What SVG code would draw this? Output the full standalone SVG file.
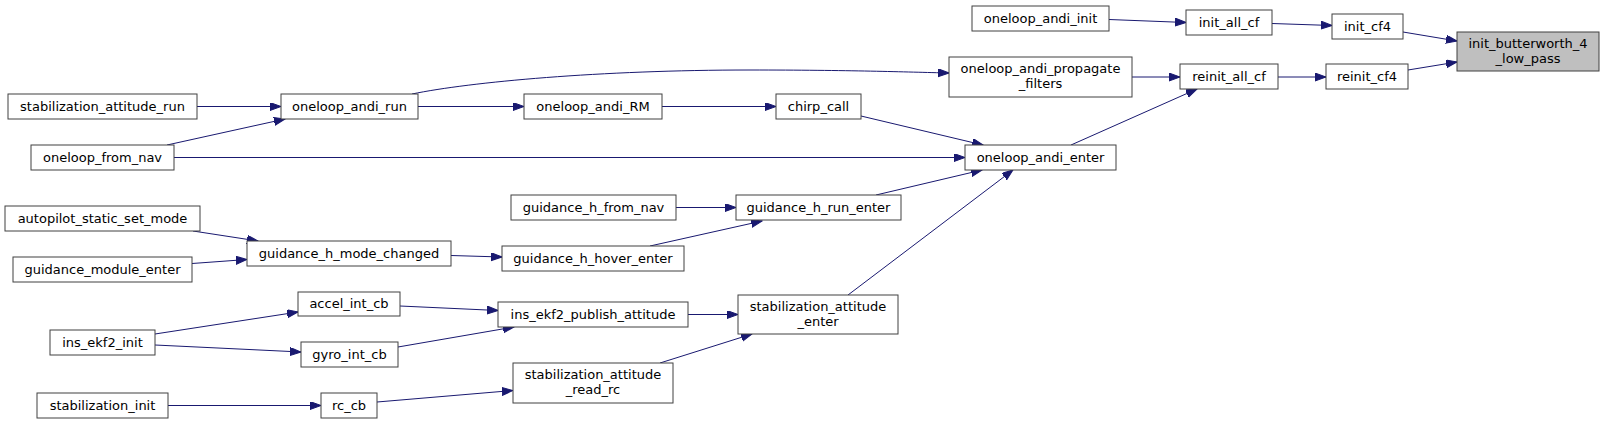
<svg xmlns="http://www.w3.org/2000/svg" width="1604" height="424" viewBox="0 0 1604 424">
<style>
.n rect{fill:#ffffff;stroke:#404040;stroke-width:1}
.n.hl rect{fill:#bfbfbf}
.n text{font-family:"DejaVu Sans","Liberation Sans",sans-serif;font-size:13px;fill:#000000;text-anchor:middle}
#edges path{fill:none;stroke:#191970;stroke-width:1;marker-end:url(#arr)}
</style>
<defs>
<marker id="arr" markerWidth="12" markerHeight="9" refX="11" refY="4" orient="auto" markerUnits="userSpaceOnUse">
<path d="M0,0 L11,4 L0,8 z" fill="#191970" stroke="#191970" stroke-width="1"/>
</marker>
</defs>
<rect width="1604" height="424" fill="#ffffff"/>
<g id="edges">
<path d="M1403,32 L1457,41"/>
<path d="M1408,70 L1457,62"/>
<path d="M1272,23.5 L1332,25.5"/>
<path d="M1278,77 L1326,77"/>
<path d="M1109,19.5 L1186,22.5"/>
<path d="M1132,77 L1180,77"/>
<path d="M1071,145 L1197,89"/>
<path d="M412,94 C470,82 600,70 750,70 C850,70 905,72 949,73"/>
<path d="M197,106.5 L281,106.5"/>
<path d="M167,145 L285,119"/>
<path d="M418,106.5 L524,106.5"/>
<path d="M662,106.5 L776,106.5"/>
<path d="M861,116 L983,145"/>
<path d="M174,157.5 L965,157.5"/>
<path d="M876,195 L982,170"/>
<path d="M848,295 L1013,170"/>
<path d="M676,207.5 L736,207.5"/>
<path d="M650,246 L762,221"/>
<path d="M451,255.5 L502,257"/>
<path d="M193,231 L258,241"/>
<path d="M192,263.5 L247,259.5"/>
<path d="M155,334 L298,312"/>
<path d="M155,345 L301,352"/>
<path d="M400,306 L498,310.5"/>
<path d="M398,347 L514,327"/>
<path d="M688,314.5 L738,314.5"/>
<path d="M660,363 L752,334"/>
<path d="M168,405.5 L321,405.5"/>
<path d="M377,402 L513,390.5"/>
</g>
<g id="n0" class="n hl"><rect x="1457" y="32" width="142" height="39"/><text x="1528" y="48">init_butterworth_4</text><text x="1528" y="63">_low_pass</text></g>
<g id="n1" class="n"><rect x="1332" y="14" width="71" height="25"/><text x="1367.5" y="30.5">init_cf4</text></g>
<g id="n2" class="n"><rect x="1326" y="64" width="82" height="25"/><text x="1367" y="80.5">reinit_cf4</text></g>
<g id="n3" class="n"><rect x="1186" y="10" width="86" height="25"/><text x="1229" y="26.5">init_all_cf</text></g>
<g id="n4" class="n"><rect x="1180" y="64" width="98" height="25"/><text x="1229" y="80.5">reinit_all_cf</text></g>
<g id="n5" class="n"><rect x="972" y="6" width="137" height="25"/><text x="1040.5" y="22.5">oneloop_andi_init</text></g>
<g id="n6" class="n"><rect x="949" y="57" width="183" height="40"/><text x="1040.5" y="73">oneloop_andi_propagate</text><text x="1040.5" y="88">_filters</text></g>
<g id="n7" class="n"><rect x="965" y="145" width="151" height="25"/><text x="1040.5" y="161.5">oneloop_andi_enter</text></g>
<g id="n8" class="n"><rect x="776" y="94" width="85" height="25"/><text x="818.5" y="110.5">chirp_call</text></g>
<g id="n9" class="n"><rect x="524" y="94" width="138" height="25"/><text x="593" y="110.5">oneloop_andi_RM</text></g>
<g id="n10" class="n"><rect x="281" y="94" width="137" height="25"/><text x="349.5" y="110.5">oneloop_andi_run</text></g>
<g id="n11" class="n"><rect x="8" y="94" width="189" height="25"/><text x="102.5" y="110.5">stabilization_attitude_run</text></g>
<g id="n12" class="n"><rect x="31" y="145" width="143" height="25"/><text x="102.5" y="161.5">oneloop_from_nav</text></g>
<g id="n13" class="n"><rect x="736" y="195" width="165" height="25"/><text x="818.5" y="211.5">guidance_h_run_enter</text></g>
<g id="n14" class="n"><rect x="511" y="195" width="165" height="25"/><text x="593.5" y="211.5">guidance_h_from_nav</text></g>
<g id="n15" class="n"><rect x="502" y="246" width="182" height="25"/><text x="593" y="262.5">guidance_h_hover_enter</text></g>
<g id="n16" class="n"><rect x="247" y="241" width="204" height="25"/><text x="349" y="257.5">guidance_h_mode_changed</text></g>
<g id="n17" class="n"><rect x="5" y="206" width="195" height="25"/><text x="102.5" y="222.5">autopilot_static_set_mode</text></g>
<g id="n18" class="n"><rect x="13" y="257" width="179" height="25"/><text x="102.5" y="273.5">guidance_module_enter</text></g>
<g id="n19" class="n"><rect x="738" y="295" width="160" height="39"/><text x="818" y="311">stabilization_attitude</text><text x="818" y="326">_enter</text></g>
<g id="n20" class="n"><rect x="498" y="302" width="190" height="25"/><text x="593" y="318.5">ins_ekf2_publish_attitude</text></g>
<g id="n21" class="n"><rect x="513" y="363" width="160" height="40"/><text x="593" y="379">stabilization_attitude</text><text x="593" y="394">_read_rc</text></g>
<g id="n22" class="n"><rect x="298" y="292" width="102" height="24"/><text x="349" y="308">accel_int_cb</text></g>
<g id="n23" class="n"><rect x="301" y="342" width="97" height="25"/><text x="349.5" y="358.5">gyro_int_cb</text></g>
<g id="n24" class="n"><rect x="50" y="330" width="105" height="25"/><text x="102.5" y="346.5">ins_ekf2_init</text></g>
<g id="n25" class="n"><rect x="37" y="393" width="131" height="25"/><text x="102.5" y="409.5">stabilization_init</text></g>
<g id="n26" class="n"><rect x="321" y="393" width="56" height="25"/><text x="349" y="409.5">rc_cb</text></g>
</svg>
